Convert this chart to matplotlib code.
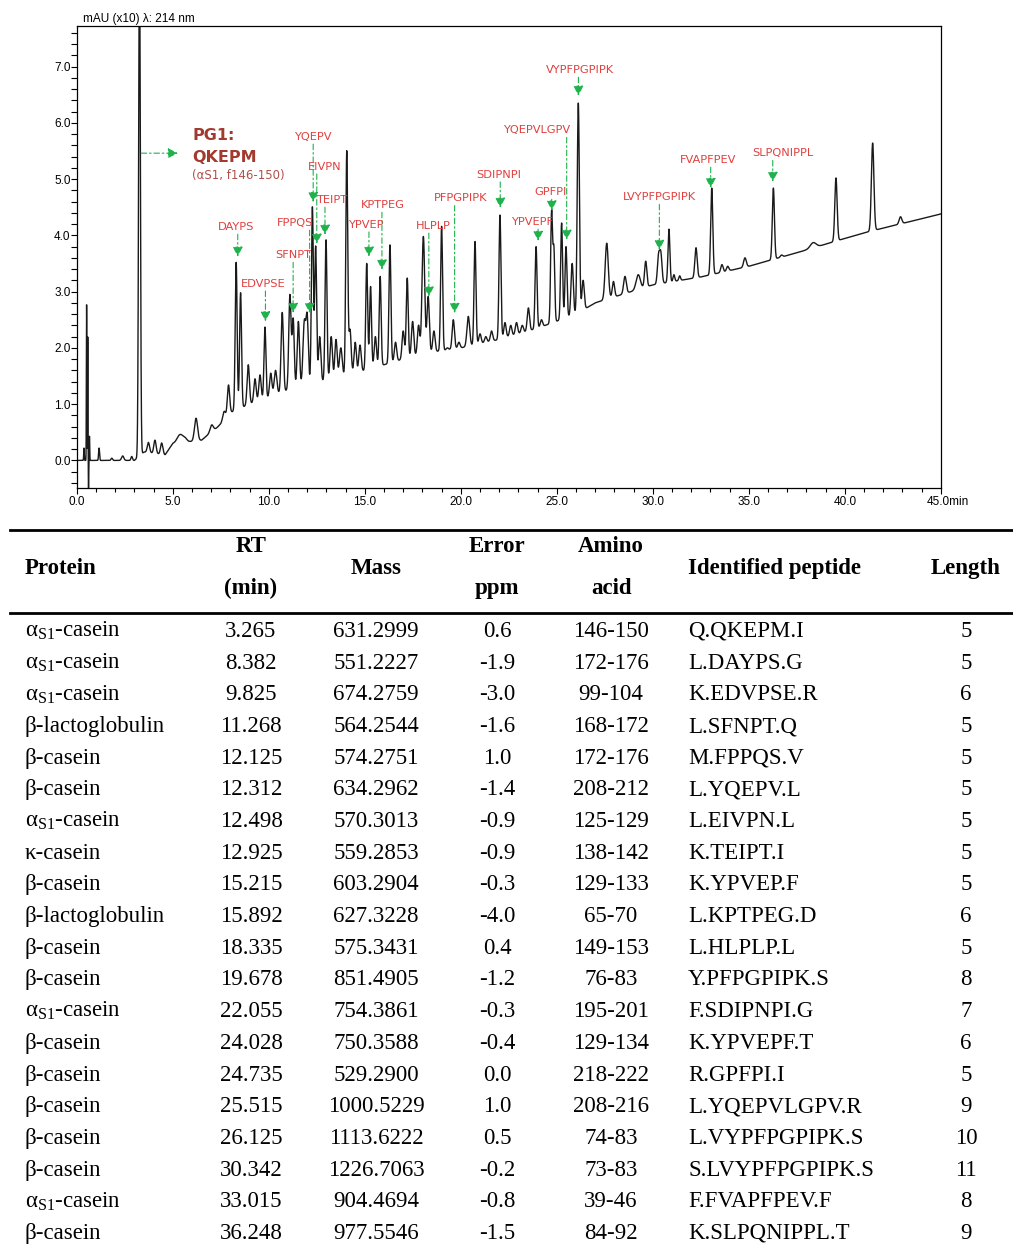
"""
Chromatogram (214 nm) of the hydrolysate with the identified peptides
marked, and the LC-MS identification table below it. Saves out.png.
"""
import matplotlib
matplotlib.use("Agg")
import matplotlib.pyplot as plt
import matplotlib.transforms as mtransforms
import numpy as np
from matplotlib.lines import Line2D
from matplotlib.ticker import MultipleLocator

# ---- identification table -------------------------------------------
AS1 = r"$\mathregular{α_{S1}}$-casein"
BCN = "β-casein"
BLG = "β-lactoglobulin"
KCN = "κ-casein"

PROTEIN = [AS1, AS1, AS1, BLG, BCN, BCN, AS1, KCN, BCN, BLG,
           BCN, BCN, AS1, BCN, BCN, BCN, BCN, BCN, AS1, BCN]
RT_MIN = [3.265, 8.382, 9.825, 11.268, 12.125, 12.312, 12.498, 12.925, 15.215, 15.892,
          18.335, 19.678, 22.055, 24.028, 24.735, 25.515, 26.125, 30.342, 33.015, 36.248]
MASS = ["631.2999", "551.2227", "674.2759", "564.2544", "574.2751", "634.2962",
        "570.3013", "559.2853", "603.2904", "627.3228", "575.3431", "851.4905",
        "754.3861", "750.3588", "529.2900", "1000.5229", "1113.6222", "1226.7063",
        "904.4694", "977.5546"]
ERROR_PPM = ["0.6", "-1.9", "-3.0", "-1.6", "1.0", "-1.4", "-0.9", "-0.9", "-0.3", "-4.0",
             "0.4", "-1.2", "-0.3", "-0.4", "0.0", "1.0", "0.5", "-0.2", "-0.8", "-1.5"]
AMINO_ACID = ["146-150", "172-176", "99-104", "168-172", "172-176", "208-212", "125-129",
              "138-142", "129-133", "65-70", "149-153", "76-83", "195-201", "129-134",
              "218-222", "208-216", "74-83", "73-83", "39-46", "84-92"]
PEPTIDE = ["Q.QKEPM.I", "L.DAYPS.G", "K.EDVPSE.R", "L.SFNPT.Q", "M.FPPQS.V", "L.YQEPV.L",
           "L.EIVPN.L", "K.TEIPT.I", "K.YPVEP.F", "L.KPTPEG.D", "L.HLPLP.L",
           "Y.PFPGPIPK.S", "F.SDIPNPI.G", "K.YPVEPF.T", "R.GPFPI.I", "L.YQEPVLGPV.R",
           "L.VYPFPGPIPK.S", "S.LVYPFPGPIPK.S", "F.FVAPFPEV.F", "K.SLPQNIPPL.T"]
LENGTH = [5, 5, 6, 5, 5, 5, 5, 5, 5, 6, 5, 8, 7, 6, 5, 9, 10, 11, 8, 9]

# ---- chromatogram trace ----------------------------------------------
BASE_RT = [0, 3.0, 3.5, 4.6, 5.0, 6.5, 7.5, 8.0, 9.0, 10.0, 11.0, 12.0, 13.0, 14.5,
           16.5, 18.0, 20.0, 22.0, 24.0, 26.0, 27.0, 30.0, 32.5, 35.0, 37.7, 39.75,
           41.3, 43.7, 45.0]
BASE_AU = [0.0, 0.0, 0.15, 0.1, 0.3, 0.36, 0.65, 0.85, 1.0, 1.12, 1.25, 1.35, 1.42, 1.55,
           1.75, 1.9, 2.0, 2.15, 2.35, 2.6, 2.8, 3.12, 3.26, 3.45, 3.71, 3.92,
           4.07, 4.27, 4.38]

PEAK_RT = [0.375, 0.51, 0.57, 0.61, 0.66, 1.16, 1.82, 2.39, 2.86, 3.265,
           3.73, 4.07, 4.42, 5.38, 5.64, 6.21, 7.02, 7.29, 7.67, 7.9,
           8.3, 8.53, 8.93, 9.28, 9.54, 9.8, 10.1, 10.35, 10.7, 11.1,
           11.27, 11.54, 11.85, 12.0, 12.27, 12.44, 12.65, 12.98, 13.25, 13.5,
           13.75, 14.06, 14.23, 14.5, 14.75, 15.1, 15.3, 15.55, 15.8, 16.31,
           16.6, 17.0, 17.21, 17.49, 17.8, 18.05, 18.3, 18.6, 19.0, 19.3,
           19.61, 19.9, 20.39, 20.74, 21.0, 21.3, 21.6, 22.04, 22.3, 22.6,
           22.9, 23.2, 23.52, 23.92, 24.2, 24.73, 24.85, 25.25, 25.48, 25.8,
           26.12, 26.37, 27.6, 27.95, 28.55, 29.24, 29.63, 30.3, 30.42, 30.84,
           31.1, 31.4, 32.25, 33.07, 33.6, 33.9, 34.8, 36.28, 36.7, 38.35,
           39.54, 41.45, 42.9]
PEAK_TOP = [0.22, 2.77, 2.2, -0.5, 0.43, 0.22, 0.04, 0.08, 0.07, 9.0,
            0.32, 0.36, 0.31, 0.46, 0.38, 0.75, 0.63, 0.58, 0.87, 1.34,
            3.52, 2.98, 1.7, 1.45, 1.52, 2.37, 1.55, 1.6, 2.63, 2.94,
            2.5, 2.47, 2.45, 2.5, 4.5, 3.8, 2.2, 3.92, 2.2, 2.15,
            2.0, 5.49, 2.32, 2.1, 2.05, 3.5, 3.09, 2.2, 3.27, 3.83,
            2.1, 2.3, 3.24, 2.47, 2.4, 3.98, 2.91, 2.3, 4.16, 2.0,
            2.5, 2.1, 2.56, 3.89, 2.25, 2.2, 2.3, 4.36, 2.45, 2.4,
            2.45, 2.4, 2.71, 3.8, 2.5, 4.42, 3.7, 4.22, 3.8, 3.5,
            6.35, 3.2, 3.86, 3.18, 3.27, 3.3, 3.54, 3.62, 3.65, 4.11,
            3.3, 3.28, 3.78, 4.84, 3.48, 3.45, 3.6, 4.84, 3.65, 3.87,
            5.02, 5.64, 4.33]
PEAK_SD = [0.015, 0.012, 0.012, 0.012, 0.012, 0.025, 0.04, 0.06, 0.04, 0.045,
           0.06, 0.06, 0.06, 0.15, 0.1, 0.08, 0.08, 0.08, 0.07, 0.06,
           0.05, 0.05, 0.06, 0.06, 0.06, 0.05, 0.06, 0.07, 0.06, 0.06,
           0.055, 0.06, 0.07, 0.06, 0.05, 0.05, 0.06, 0.05, 0.06, 0.06,
           0.07, 0.05, 0.06, 0.06, 0.06, 0.05, 0.05, 0.06, 0.05, 0.05,
           0.06, 0.06, 0.05, 0.06, 0.06, 0.07, 0.06, 0.06, 0.05, 0.06,
           0.06, 0.06, 0.07, 0.05, 0.06, 0.06, 0.06, 0.05, 0.06, 0.06,
           0.06, 0.06, 0.06, 0.05, 0.06, 0.05, 0.045, 0.05, 0.05, 0.06,
           0.055, 0.06, 0.08, 0.06, 0.07, 0.11, 0.06, 0.06, 0.06, 0.05,
           0.045, 0.045, 0.06, 0.055, 0.06, 0.06, 0.07, 0.055, 0.06, 0.15,
           0.06, 0.065, 0.07]

# label placement for the marked peptides (rows 2..20 of the table)
LABEL_X = [8.29, 9.70, 11.26, 11.36, 12.30, 12.93, 13.29, 15.06, 15.95, 18.55,
           20.01, 22.0, 23.71, 24.65, 23.97, 26.21, 30.32, 32.88, 36.78]
LABEL_Y = [4.15, 3.14, 3.65, 4.22, 5.75, 5.22, 4.63, 4.19, 4.54, 4.17,
           4.66, 5.08, 4.24, 4.77, 5.87, 6.94, 4.68, 5.34, 5.46]
TIP_Y = [3.62, 2.47, 2.62, 2.62, 4.59, 3.85, 4.01, 3.62, 3.39, 2.91,
         2.62, 4.49, 3.90, 4.44, 3.92, 6.48, 3.74, 4.84, 4.95]

RED = "#e0403e"
DARK_RED = "#a33a30"
GREEN = "#1fb24c"
W, H = 1013, 1244


def _chromatogram(fig):
    ax = fig.add_axes([76.8 / W, 1 - 488 / H, 864 / W, 462 / H])
    rt = np.linspace(0, 45, 20001)
    trace = np.interp(rt, BASE_RT, BASE_AU)
    for c, top, sd in zip(PEAK_RT, PEAK_TOP, PEAK_SD):
        amp = top - np.interp(c, BASE_RT, BASE_AU)
        trace += amp * np.exp(-0.5 * ((rt - c) / sd) ** 2)
    ax.plot(rt, trace, color="#1a1a1a", lw=1.0)

    ax.set_xlim(0, 45)
    ax.set_ylim(-0.49, 7.72)
    ax.xaxis.set_major_locator(MultipleLocator(5))
    ax.xaxis.set_minor_locator(MultipleLocator(1))
    ax.yaxis.set_major_locator(MultipleLocator(1))
    ax.yaxis.set_minor_locator(MultipleLocator(0.2))
    ax.tick_params(which="both", direction="out", width=0.8, labelsize=8.5)
    ax.tick_params(axis="y", which="both", length=4, pad=0.5)
    ax.tick_params(axis="x", which="major", length=4, pad=2)
    ax.tick_params(axis="x", which="minor", length=3)
    ax.set_xticks(np.arange(0, 46, 5))
    ax.set_xticklabels([f"{v:.1f}" for v in np.arange(0, 41, 5)] + ["45.0min"])
    ax.set_yticks(np.arange(0, 8, 1))
    ax.set_yticklabels([f"{v:.1f}" for v in range(8)])
    for lbl in ax.get_xticklabels() + ax.get_yticklabels():
        lbl.set_family("Liberation Sans")
    last = ax.get_xticklabels()[-1]
    last.set_horizontalalignment("left")
    last.set_transform(last.get_transform()
                       + mtransforms.ScaledTranslation(-10 / 72, 0, fig.dpi_scale_trans))
    for sp in ax.spines.values():
        sp.set_linewidth(0.9)

    ax.text(0.007, 1.002, "mAU (x10) λ: 214 nm", transform=ax.transAxes,
            fontsize=8.5, family="Liberation Sans", va="bottom", ha="left")

    # marked peptides
    names = [p.split(".")[1] for p in PEPTIDE]
    arrow = dict(arrowstyle="-|>,head_length=0.6,head_width=0.3", color=GREEN, lw=0.8,
                 linestyle=(0, (5, 2.5, 1.5, 2.5)), shrinkA=0, shrinkB=0)
    for x, lx, ly, tip, name in zip(RT_MIN[1:], LABEL_X, LABEL_Y, TIP_Y, names[1:]):
        ax.text(lx, ly, name, color=RED, fontsize=8.2, ha="center", va="center",
                family="DejaVu Sans")
        ax.annotate("", xy=(x, tip), xytext=(x, ly - 0.13), arrowprops=arrow)

    # PG1 callout for the first (off-scale) peak
    ax.annotate("", xy=(5.27, 5.46), xytext=(3.35, 5.46), arrowprops=arrow)
    ax.text(6.0, 5.77, "PG1:", color=DARK_RED, fontsize=11.5, fontweight="bold",
            ha="left", va="center", family="DejaVu Sans")
    ax.text(6.0, 5.39, names[0], color=DARK_RED, fontsize=11.5, fontweight="bold",
            ha="left", va="center", family="DejaVu Sans")
    ax.text(6.0, 5.06, "(αS1, f146-150)", color="#b0504a", fontsize=8.5,
            ha="left", va="center", family="DejaVu Sans")


def _table(fig):
    tx = fig.add_axes([0, 0, 1, 1], zorder=-1)
    tx.set_xlim(0, W)
    tx.set_ylim(H, 0)
    tx.axis("off")
    for y in (530, 613):
        tx.add_line(Line2D([10, W], [y, y], color="black", lw=2.0))

    font = dict(family="Liberation Serif", fontsize=16.5, va="baseline")
    bold = dict(font, fontweight="bold")
    tx.text(25, 574, "Protein", ha="left", **bold)
    tx.text(251, 552, "RT", ha="center", **bold)
    tx.text(251, 594, "(min)", ha="center", **bold)
    tx.text(376, 574, "Mass", ha="center", **bold)
    tx.text(497, 552, "Error", ha="center", **bold)
    tx.text(497, 594, "ppm", ha="center", **bold)
    tx.text(611, 552, "Amino", ha="center", **bold)
    tx.text(611, 594, "acid", ha="center", **bold)
    tx.text(688, 574, "Identified peptide", ha="left", **bold)
    tx.text(966, 574, "Length", ha="center", **bold)

    for i in range(len(PROTEIN)):
        y = 637 + i * 31.68
        tx.text(25, y, PROTEIN[i], ha="left", **font)
        tx.text(251, y, f"{RT_MIN[i]:.3f}", ha="center", **font)
        tx.text(376, y, MASS[i], ha="center", **font)
        tx.text(497, y, ERROR_PPM[i], ha="center", **font)
        tx.text(611, y, AMINO_ACID[i], ha="center", **font)
        tx.text(688, y, PEPTIDE[i], ha="left", **font)
        tx.text(966, y, str(LENGTH[i]), ha="center", **font)


fig = plt.figure(figsize=(W / 100, H / 100), dpi=100)
_chromatogram(fig)
_table(fig)
fig.savefig("out.png", dpi=100)
plt.close(fig)
